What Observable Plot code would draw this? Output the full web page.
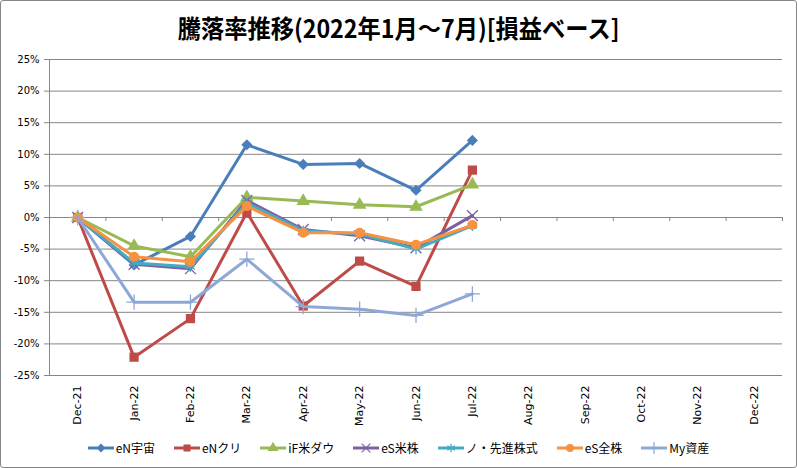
<!DOCTYPE html>
<html><head><meta charset="utf-8">
<script src="https://cdn.jsdelivr.net/npm/d3@7"></script>
<script src="https://cdn.jsdelivr.net/npm/@observablehq/plot@0.6"></script>
<style>
body{margin:0;background:#fff;}
#wrap{position:relative;width:797px;height:468px;overflow:hidden;background:#fff;}
#frame{position:absolute;left:0;top:0;width:795px;height:466px;border:1px solid #868686;border-radius:3px;pointer-events:none;}
#title{position:absolute;left:0;top:9px;width:797px;text-align:center;font-family:"Noto Sans CJK JP";font-weight:bold;font-size:25px;line-height:36px;color:#000;}
#title span{display:inline-block;transform:scaleX(0.93);}
#chart{position:absolute;left:0;top:48px;}
#legend{position:absolute;left:0;top:439px;width:797px;display:flex;justify-content:center;gap:19px;font-family:"Noto Sans CJK JP";font-size:12px;line-height:18px;color:#000;}
#legend .item{display:flex;align-items:center;}
#legend svg{margin-right:2px;}
</style>
</head><body>
<div id="wrap">
  <div id="title"><span>騰落率推移(2022年1月～7月)[損益ベース]</span></div>
  <div id="chart"></div>
  <div id="legend"></div>
  <div id="frame"></div>
</div>
<script>
const months = ["Dec-21","Jan-22","Feb-22","Mar-22","Apr-22","May-22","Jun-22","Jul-22","Aug-22","Sep-22","Oct-22","Nov-22","Dec-22"];
const seriesNames = ["eN宇宙","eNクリ","iF米ダウ","eS米株","ノ・先進株式","eS全株","My資産"];
const eNUchu   = [0, -7.5, -3.0, 11.5, 8.4, 8.55, 4.3, 12.2];
const eNKuri   = [0, -22.1, -16.0, 0.8, -14.0, -6.9, -10.9, 7.5];
const iFDow    = [0, -4.5, -6.2, 3.2, 2.6, 2.0, 1.7, 5.2];
const eSBeikabu= [0, -7.4, -8.1, 2.7, -1.9, -2.9, -4.8, 0.3];
const noSenshin= [0, -7.2, -7.8, 2.3, -2.1, -2.6, -5.0, -1.3];
const eSZenkabu= [0, -6.2, -7.0, 1.8, -2.4, -2.4, -4.3, -1.2];
const myShisan = [0, -13.4, -13.4, -6.6, -14.1, -14.5, -15.5, -12.1];
const yTicks = [-25,-20,-15,-10,-5,0,5,10,15,20,25];

const seriesValues = [eNUchu, eNKuri, iFDow, eSBeikabu, noSenshin, eSZenkabu, myShisan];
const colors = ["#4A7EBB","#BE4B48","#98B954","#7D60A0","#46AAC5","#F69240","#8EA8D6"];
const symbols = ["diamond2","square","triangle","times","asterisk","circle","plus"];
const filled = [true,true,true,false,false,true,false];
const d3sym = {diamond2:d3.symbolDiamond2, square:d3.symbolSquare, triangle:d3.symbolTriangle, times:d3.symbolTimes, asterisk:d3.symbolAsterisk, circle:d3.symbolCircle, plus:d3.symbolPlus};

const grid = "#868686";
const marks = [
  Plot.gridY(yTicks, {stroke: grid, strokeOpacity: 1}),
  Plot.ruleX([-0.5], {stroke: grid}),
  Plot.ruleX(d3.range(1, 14).map(i => i - 0.5), {y1: 0, y2: -0.65, stroke: grid}),
  Plot.axisY(yTicks, {tickFormat: d => d + "%", tickSize: 5, tickPadding: 5, stroke: grid, fill: "#000", fontSize: 10, fontFamily: "DejaVu Sans", label: null}),
  Plot.axisX(d3.range(months.length), {tickFormat: i => months[i], tickSize: 0, tickPadding: 10, tickRotate: -90, fill: "#000", fontSize: 11, fontFamily: "DejaVu Sans", label: null})
];
seriesNames.forEach((name, s) => {
  const rows = seriesValues[s].map((v, i) => ({series: name, month: i, value: v}));
  marks.push(Plot.line(rows, {x: "month", y: "value", stroke: colors[s], strokeWidth: 3, strokeLinejoin: "round"}));
  marks.push(Plot.dot(rows, {x: "month", y: "value", symbol: symbols[s], r: symbols[s] === "square" ? 5.2 : 5,
    fill: filled[s] ? colors[s] : "none", stroke: filled[s] ? "none" : colors[s], strokeWidth: 1.3}));
});

const chart = Plot.plot({
  width: 797, height: 382,
  marginLeft: 49, marginRight: 15, marginTop: 11, marginBottom: 55,
  x: {type: "linear", domain: [-0.5, 12.5], axis: null},
  y: {domain: [-25, 25], axis: null},
  style: {background: "transparent", overflow: "visible"},
  marks
});
document.getElementById("chart").appendChild(chart);

const legend = document.getElementById("legend");
seriesNames.forEach((name, s) => {
  const item = document.createElement("div");
  item.className = "item";
  const svg = d3.create("svg").attr("width", 26).attr("height", 14);
  svg.append("line").attr("x1", 0).attr("x2", 26).attr("y1", 7).attr("y2", 7).attr("stroke", colors[s]).attr("stroke-width", 3);
  svg.append("path").attr("transform", "translate(13,7)")
    .attr("d", d3.symbol(d3sym[symbols[s]], 50)())
    .attr("fill", filled[s] ? colors[s] : "none")
    .attr("stroke", filled[s] ? "none" : colors[s]).attr("stroke-width", 1.2);
  item.appendChild(svg.node());
  const t = document.createElement("span");
  t.textContent = name;
  item.appendChild(t);
  legend.appendChild(item);
});
</script>
</body></html>
